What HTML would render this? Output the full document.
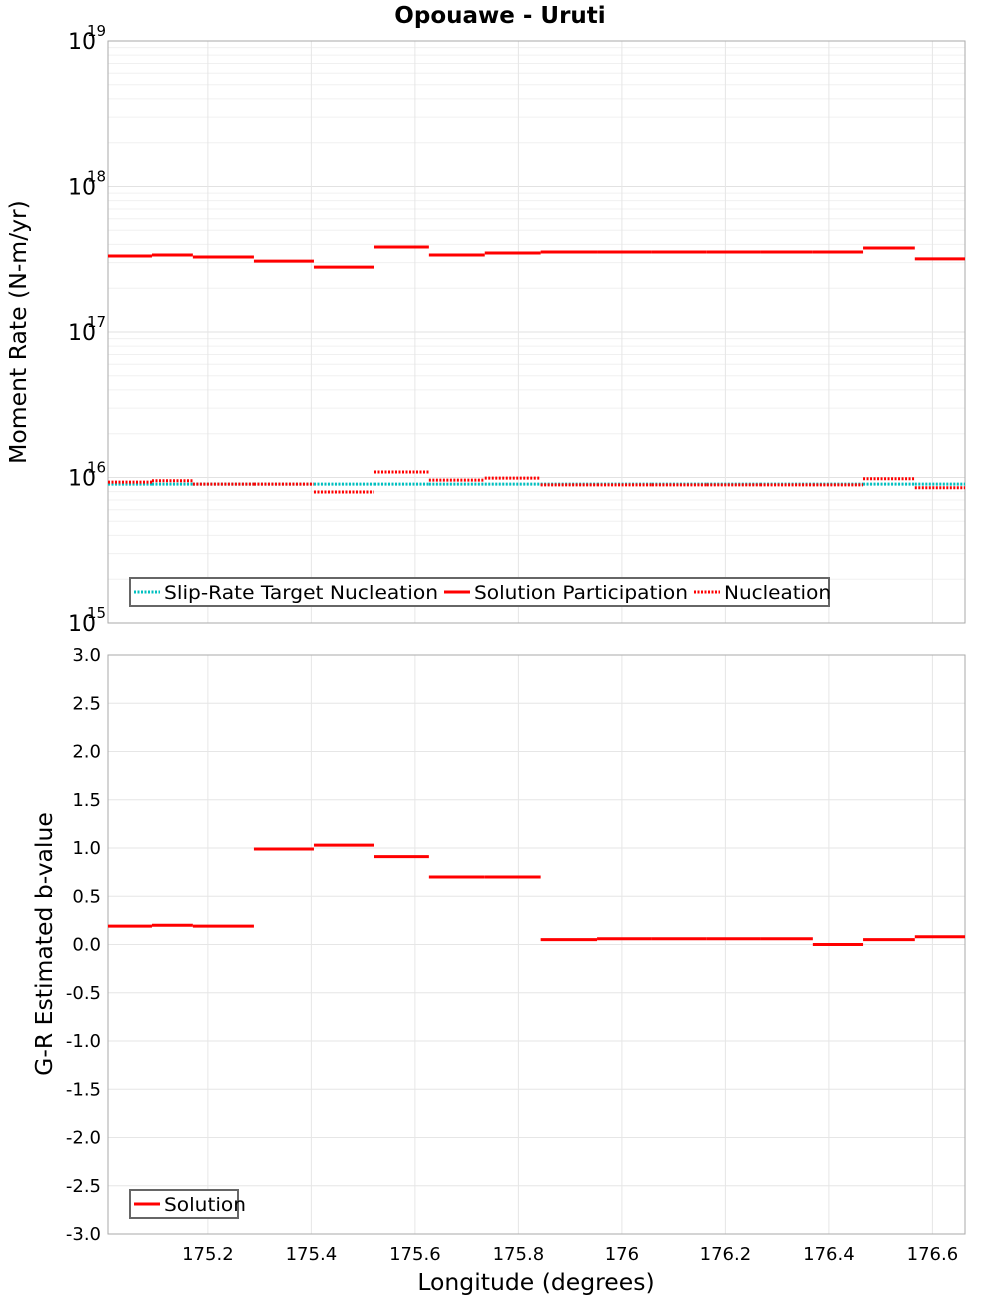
<!DOCTYPE html>
<html><head><meta charset="utf-8"><style>
body{margin:0;background:#fff;}
svg text{font-family:"DejaVu Sans","Liberation Sans",sans-serif;}
</style></head><body>
<svg id="c" width="1000" height="1300" xmlns="http://www.w3.org/2000/svg">
<text x="500" y="23" text-anchor="middle" font-size="23" font-weight="bold">Opouawe - Uruti</text>
<g id="topG"></g><g id="botG"></g>
<text transform="translate(26,332) rotate(-90)" text-anchor="middle" font-size="23.5">Moment Rate (N-m/yr)</text>
<text transform="translate(52,944) rotate(-90)" text-anchor="middle" font-size="23.5">G-R Estimated b-value</text>
<text x="536" y="1290" text-anchor="middle" font-size="23.5">Longitude (degrees)</text>
</svg>
<script>
const binEdges=[175.007,175.092,175.171,175.289,175.405,175.521,175.627,175.735,175.843,175.952,176.058,176.164,176.267,176.369,176.466,176.566,176.663];
const participation=[3.33e17,3.38e17,3.28e17,3.07e17,2.79e17,3.84e17,3.38e17,3.49e17,3.55e17,3.55e17,3.55e17,3.55e17,3.55e17,3.55e17,3.78e17,3.18e17];
const targetNucleation=[9.0e15,9.0e15,9.0e15,9.0e15,9.0e15,9.0e15,9.0e15,9.0e15,9.0e15,9.0e15,9.0e15,9.0e15,9.0e15,9.0e15,9.0e15,9.0e15];
const nucleation=[9.3e15,9.5e15,9.0e15,9.0e15,7.95e15,1.09e16,9.6e15,9.9e15,8.9e15,8.9e15,8.9e15,8.9e15,8.9e15,8.9e15,9.8e15,8.5e15];
const bValues=[0.19,0.20,0.19,0.99,1.03,0.91,0.70,0.70,0.05,0.06,0.06,0.06,0.06,0.0,0.05,0.08];
const xTicks=[175.2,175.4,175.6,175.8,176,176.2,176.4,176.6];
const xTickLabels=["175.2","175.4","175.6","175.8","176","176.2","176.4","176.6"];
const logExps=[15,16,17,18,19];
const bTicks=[3,2.5,2,1.5,1,0.5,0,-0.5,-1,-1.5,-2,-2.5,-3];

const NS="http://www.w3.org/2000/svg";
const L=108,R=965;
const xS=v=>L+(v-175.007)*(R-L)/(176.663-175.007);
const T1=41,B1=623,T2=655,B2=1234;
const yLog=v=>B1-(Math.log10(v)-15)*(B1-T1)/4;
const yB=v=>B2-(v+3)*(B2-T2)/6;
function mk(p,tag,a){const e=document.createElementNS(NS,tag);for(const k in a)e.setAttribute(k,a[k]);p.appendChild(e);return e;}
const topG=document.getElementById('topG'),botG=document.getElementById('botG');

for(let e=15;e<19;e++)for(let m=1;m<10;m++){const y=yLog(m*Math.pow(10,e));
 const g=mk(topG,'line',{x1:L,x2:R,y1:y,y2:y,stroke:m==1?'#e2e2e2':'#f0f0f0','stroke-width':1});
 
 }
xTicks.forEach(v=>{for(const [T,B,p] of [[T1,B1,topG],[T2,B2,botG]]){const g=mk(p,'line',{x1:xS(v),x2:xS(v),y1:T,y2:B,stroke:'#e6e6e6'});
 
 }});
bTicks.forEach(v=>{const g=mk(botG,'line',{x1:L,x2:R,y1:yB(v),y2:yB(v),stroke:'#e6e6e6'});
 
 });
for(const [T,B,p,n] of [[T1,B1,topG,'top-plot-frame'],[T2,B2,botG,'bottom-plot-frame']]){const r=mk(p,'rect',{x:L,y:T,width:R-L,height:B-T,fill:'none',stroke:'#aaa'});
 
 }
logExps.forEach(e=>{const t=mk(topG,'text',{x:96,y:yLog(Math.pow(10,e))+8,'text-anchor':'end','font-size':22});t.textContent='10';
 
 
 const s=mk(topG,'text',{x:87,y:yLog(Math.pow(10,e))-5,'font-size':15});s.textContent=String(e);
 
 });
bTicks.forEach(v=>{const t=mk(botG,'text',{x:101,y:yB(v)+6,'text-anchor':'end','font-size':18});t.textContent=v.toFixed(1);
 
 });
xTicks.forEach((v,i)=>{const t=mk(botG,'text',{x:xS(v),y:1260,'text-anchor':'middle','font-size':18});t.textContent=xTickLabels[i];
 
 });

function steps(p,arr,yf,col,dash,name){arr.forEach((v,i)=>{const a={x1:xS(binEdges[i]),x2:xS(binEdges[i+1]),y1:yf(v),y2:yf(v),stroke:col,'stroke-width':3};
 if(dash)a['stroke-dasharray']='2,1.5';const l=mk(p,'line',a);
 
 });}
steps(topG,participation,yLog,'#ff0000',false,'participation-segment');
steps(topG,targetNucleation,yLog,'#00c0c0',true,'target-nucleation-segment');
steps(topG,nucleation,yLog,'#ff0000',true,'nucleation-segment');
steps(botG,bValues,yB,'#ff0000',false,'b-value-segment');

function legend(p,x,y,w,items,name){const g=mk(p,'g',{});
 
 
 mk(g,'rect',{x:x,y:y,width:w,height:28,fill:'#fff',stroke:'#666','stroke-width':2});
 let cx=x+4;items.forEach(([lab,col,dash,tw])=>{const a={x1:cx,x2:cx+26,y1:y+14,y2:y+14,stroke:col,'stroke-width':3};if(dash)a['stroke-dasharray']='2,1.5';
 const l=mk(g,'line',a);
 
 
 const t=mk(g,'text',{x:cx+30,y:y+21,'font-size':19,textLength:tw,lengthAdjust:'spacingAndGlyphs'});t.textContent=lab;
 
 
 cx+=30+tw+6;});}
legend(topG,130,578,699,[['Slip-Rate Target Nucleation','#00c0c0',true,274],['Solution Participation','#ff0000',false,214],['Nucleation','#ff0000',true,107]],'legend-top');
legend(botG,130,1190,108,[['Solution','#ff0000',false,82]],'legend-bottom');
</script>
</body></html>
